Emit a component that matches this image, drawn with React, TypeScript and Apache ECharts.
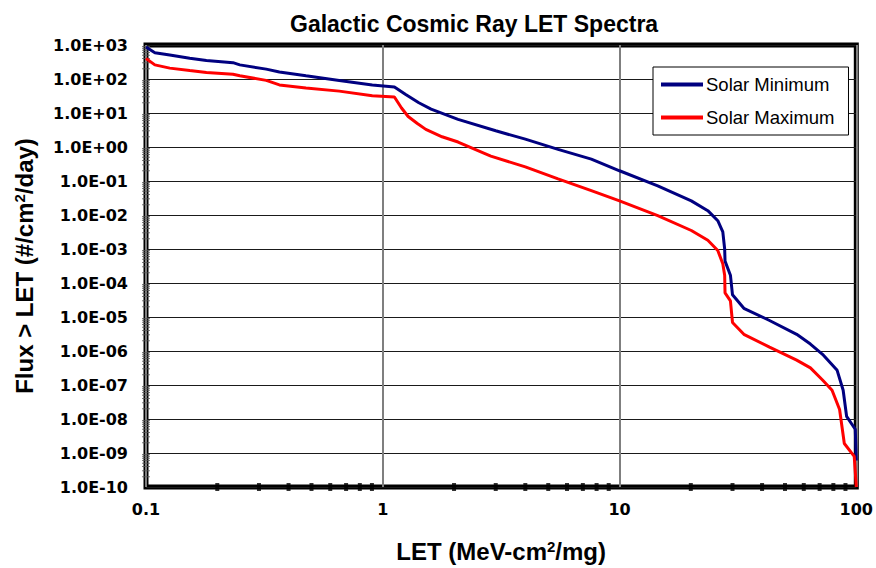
import React, { useEffect, useRef } from "react";
import * as echarts from "echarts";

// LET values (MeV-cm2/mg) and integral flux (#/cm2/day) for each solar condition
const letSolarMin = [
  0.1, 0.109, 0.126, 0.153, 0.18, 0.233, 0.249, 0.322, 0.366, 0.474, 0.655, 0.903, 1.12, 1.25, 1.42,
  1.6, 2.08, 3.0, 4.0, 5.5, 7.6, 10, 14.5, 20.1, 23.6, 26, 27.3, 27.8, 27.9, 29.4, 30, 33.5,
  43, 56, 64, 72, 83, 88, 91, 99, 100,
];
const fluxSolarMin = [
  870, 595, 510, 410, 350, 303, 260, 195, 160, 124, 91, 67, 58, 35, 20,
  13, 6.5, 3.0, 1.7, 0.85, 0.44, 0.2, 0.072, 0.026, 0.0134, 0.0068, 0.0032, 0.001, 4.4e-4, 1.7e-4, 4.5e-5, 1.8e-5,
  7.9e-6, 3.1e-6, 1.6e-6, 8e-7, 2.7e-7, 7e-8, 1.2e-8, 5e-9, 6e-10,
];

const letSolarMax = [
  0.1, 0.109, 0.126, 0.153, 0.18, 0.233, 0.249, 0.322, 0.366, 0.474, 0.655, 0.903, 1.12, 1.2, 1.28,
  1.4, 1.52, 1.78, 2.08, 2.86, 4.0, 5.5, 7.6, 10, 14.5, 20.1, 23.6, 26, 27.3, 27.8, 27.9, 29.4, 30, 33.5,
  43, 56, 64, 72, 79, 85, 89, 98, 100,
];
const fluxSolarMax = [
  400, 260, 209, 177, 155, 138, 124, 91, 67, 54, 44, 32, 29.5, 14, 7.9,
  4.9, 3.3, 2.0, 1.4, 0.54, 0.26, 0.115, 0.052, 0.026, 0.0096, 0.0035, 0.0018, 9e-4, 3.7e-4, 1.7e-4, 5.1e-5, 3e-5, 6.9e-6, 3.1e-6,
  1.3e-6, 5.4e-7, 3.2e-7, 1.4e-7, 7e-8, 1.9e-8, 1.9e-9, 8e-10, 1e-10,
];

const seriesNames = ["Solar Minimum", "Solar Maximum"];

// Decade tick labels
const xTickLabels = ["0.1", "1", "10", "100"];
const yTickLabels = [
  "1.0E-10", "1.0E-09", "1.0E-08", "1.0E-07", "1.0E-06", "1.0E-05", "1.0E-04",
  "1.0E-03", "1.0E-02", "1.0E-01", "1.0E+00", "1.0E+01", "1.0E+02", "1.0E+03",
];

// Minor tick positions (2..9 within each decade)
const minorMultipliers = [2, 3, 4, 5, 6, 7, 8, 9];
const xDecades = [0.1, 1, 10];
const yDecades = [1e-10, 1e-9, 1e-8, 1e-7, 1e-6, 1e-5, 1e-4, 1e-3, 1e-2, 1e-1, 1, 10, 100];

const X_MIN = 0.1;
const X_MAX = 100;
const Y_MIN = 1e-10;
const Y_MAX = 1e3;

export default function App() {
  const ref = useRef<HTMLDivElement>(null);

  useEffect(() => {
    if (!ref.current) return;
    const chart = echarts.init(ref.current, null, { renderer: "svg" });

    const xMinor: [number, number][] = [];
    xDecades.forEach((d) => minorMultipliers.forEach((m) => xMinor.push([d * m, Y_MIN])));
    const yMinor: [number, number][] = [];
    yDecades.forEach((d) => minorMultipliers.forEach((m) => yMinor.push([X_MIN, d * m])));

    const tickFont = {
      fontFamily: "DejaVu Sans",
      fontWeight: "bold" as const,
      fontSize: 16,
      color: "#000",
    };
    const nameRich = {
      sup: {
        fontFamily: "Liberation Sans",
        fontWeight: "bold" as const,
        fontSize: 15,
        verticalAlign: "top" as const,
        color: "#000",
      },
    };

    chart.setOption({
      animation: false,
      backgroundColor: "#fff",
      title: {
        text: "Galactic Cosmic Ray LET Spectra",
        left: 285,
        top: 7,
        textStyle: {
          fontFamily: "Liberation Sans",
          fontWeight: "bold",
          fontSize: 23,
          color: "#000",
        },
      },
      legend: {
        data: seriesNames.map((name) => ({ name, icon: "rect" })),
        orient: "vertical",
        left: 653,
        top: 67,
        itemWidth: 42,
        itemHeight: 4,
        itemGap: 14,
        padding: [8, 14, 8, 8],
        backgroundColor: "#fff",
        borderColor: "#000",
        borderWidth: 1,
        borderRadius: 0,
        textStyle: {
          fontFamily: "Liberation Sans",
          fontSize: 18.5,
          color: "#000",
          padding: [0, 0, 0, -2],
        },
      },
      grid: {
        left: 146,
        right: 17,
        top: 45,
        bottom: 78,
        show: true,
        borderColor: "#000",
        borderWidth: 5,
        backgroundColor: "#fff",
      },
      xAxis: {
        type: "log",
        logBase: 10,
        min: X_MIN,
        max: X_MAX,
        interval: 1,
        name: "LET (MeV-cm{sup|2}/mg)",
        nameLocation: "middle",
        nameGap: 52,
        nameTextStyle: {
          fontFamily: "Liberation Sans",
          fontWeight: "bold",
          fontSize: 24,
          color: "#000",
          rich: nameRich,
        },
        axisLine: { show: false },
        axisTick: { show: false },
        axisLabel: {
          ...tickFont,
          margin: 14,
          formatter: (v: number) => xTickLabels[Math.round(Math.log10(v)) + 1] ?? "",
        },
        splitLine: { show: true, lineStyle: { color: "#7f7f7f", width: 2 } },
      },
      yAxis: {
        type: "log",
        logBase: 10,
        min: Y_MIN,
        max: Y_MAX,
        interval: 1,
        name: "Flux > LET (#/cm{sup|2}/day)",
        nameLocation: "middle",
        nameGap: 110,
        nameTextStyle: {
          fontFamily: "Liberation Sans",
          fontWeight: "bold",
          fontSize: 24,
          color: "#000",
          rich: nameRich,
        },
        axisLine: { show: false },
        axisTick: { show: false },
        axisLabel: {
          ...tickFont,
          margin: 18,
          formatter: (v: number) => yTickLabels[Math.round(Math.log10(v)) + 10] ?? "",
        },
        splitLine: { show: true, lineStyle: { color: "#1a1a1a", width: 1.2 } },
      },
      series: [
        {
          name: seriesNames[0],
          type: "line",
          data: letSolarMin.map((x, i) => [x, fluxSolarMin[i]]),
          showSymbol: false,
          symbol: "none",
          lineStyle: { color: "#000080", width: 3 },
          itemStyle: { color: "#000080" },
          clip: false,
          z: 3,
        },
        {
          name: seriesNames[1],
          type: "line",
          data: letSolarMax.map((x, i) => [x, fluxSolarMax[i]]),
          showSymbol: false,
          symbol: "none",
          lineStyle: { color: "#ff0000", width: 3 },
          itemStyle: { color: "#ff0000" },
          clip: false,
          z: 4,
        },
        {
          name: "xMinorTicks",
          type: "scatter",
          data: xMinor,
          symbol: "rect",
          symbolSize: [4, 8],
          itemStyle: { color: "#000" },
          silent: true,
          z: 1,
        },
        {
          name: "yMinorTicks",
          type: "scatter",
          data: yMinor,
          symbol: "rect",
          symbolSize: [8, 1],
          itemStyle: { color: "#555" },
          silent: true,
          z: 1,
        },
      ],
    });

    return () => chart.dispose();
  }, []);

  return <div ref={ref} style={{ width: 876, height: 568, position: "absolute", left: 0, top: 0 }} />;
}
